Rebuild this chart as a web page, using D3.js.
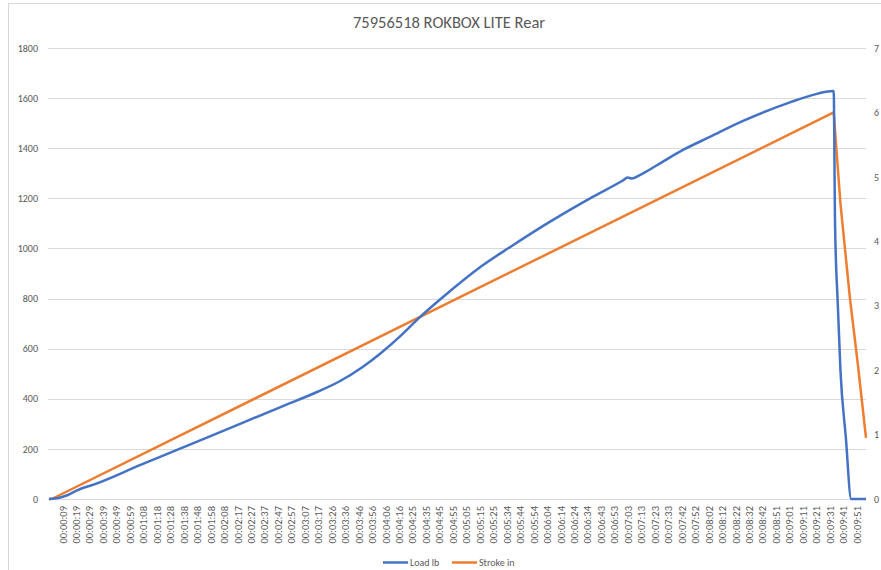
<!DOCTYPE html>
<html><head><meta charset="utf-8">
<script src="https://cdn.jsdelivr.net/npm/d3@7"></script>
<style>
body{margin:0;background:#fff;overflow:hidden;}
text{font-family:Carlito,Calibri,Lato,"Open Sans",sans-serif;}
</style>
</head><body>
<svg id="c" width="881" height="570"></svg>
<script>
const title = "75956518 ROKBOX LITE Rear";
const seriesNames = ["Load lb", "Stroke in"];
const sampleCount = 608;
// Load lb, read at sample indices
const loadIdx = [0, 7, 14, 20, 25, 30, 68, 120, 172, 200, 216, 233, 246, 263, 274, 298, 320, 343, 372, 402, 426, 430, 433, 439, 452, 471, 491, 514, 551, 567, 583, 584, 586, 588, 592, 596, 607];
const loadLb  = [0, 4, 16, 32, 44, 52, 136, 251, 367, 429, 470, 527, 580, 660, 718, 830, 924, 1007, 1106, 1200, 1270, 1283, 1279, 1293, 1333, 1393, 1445, 1505, 1584, 1612, 1628, 1100, 782, 515, 247, 0, 0];
// Stroke in, read at sample indices
const strokeIdx = [0, 2, 583, 588, 595, 601, 607];
const strokeIn  = [0, 0, 6.0, 4.59, 3.13, 2.08, 0.95];
const loadTicks = [0, 200, 400, 600, 800, 1000, 1200, 1400, 1600, 1800];
const strokeTicks = [0, 1, 2, 3, 4, 5, 6, 7];
const timeLabels = ["00:00:09","00:00:19","00:00:29","00:00:39","00:00:49","00:00:59","00:01:08","00:01:18","00:01:28","00:01:38","00:01:48","00:01:58","00:02:08","00:02:17","00:02:27","00:02:37","00:02:47","00:02:57","00:03:07","00:03:17","00:03:26","00:03:36","00:03:46","00:03:56","00:04:06","00:04:16","00:04:25","00:04:35","00:04:45","00:04:55","00:05:05","00:05:15","00:05:25","00:05:34","00:05:44","00:05:54","00:06:04","00:06:14","00:06:24","00:06:34","00:06:43","00:06:53","00:07:03","00:07:13","00:07:23","00:07:33","00:07:42","00:07:52","00:08:02","00:08:12","00:08:22","00:08:32","00:08:42","00:08:51","00:09:01","00:09:11","00:09:21","00:09:31","00:09:41","00:09:51"];
const labelEvery = 10;

const colors = ["#4472C4", "#ED7D31"];
const svg = d3.select("#c");
svg.append("rect").attr("x",0).attr("y",0).attr("width",881).attr("height",570).attr("fill","#fff");
svg.append("rect").attr("x",8.5).attr("y",3.5).attr("width",900).attr("height",600)
  .attr("fill","none").attr("stroke","#d9d9d9");

const pL = 49, pR = 866, pT = 48, pB = 499;
const x = d3.scaleLinear().domain([0, sampleCount - 1]).range([pL, pR]);
const yL = d3.scaleLinear().domain([0, 1800]).range([pB, pT]);
const yR = d3.scaleLinear().domain([0, 7]).range([pB, pT]);

// gridlines
svg.append("g").selectAll("line").data(loadTicks.filter(d => d > 0)).join("line")
  .attr("x1", pL - 1).attr("x2", pR).attr("y1", d => Math.round(yL(d)) + 0.5).attr("y2", d => Math.round(yL(d)) + 0.5)
  .attr("stroke", "#d9d9d9").attr("stroke-width", 1);

// left axis
const gl = svg.append("g").attr("transform", `translate(${pL - 11},0)`)
  .call(d3.axisLeft(yL).tickValues(loadTicks).tickFormat(d3.format("d")).tickSize(0).tickPadding(0));
gl.select(".domain").remove();
gl.selectAll("text").attr("fill", "#595959").style("font-size", "10px");

// right axis
const gr = svg.append("g").attr("transform", `translate(${pR + 8},0)`)
  .call(d3.axisRight(yR).tickValues(strokeTicks).tickFormat(d3.format("d")).tickSize(0).tickPadding(0));
gr.select(".domain").remove();
gr.selectAll("text").attr("fill", "#595959").style("font-size", "10px");

// bottom axis line
svg.append("line").attr("x1", pL - 1).attr("x2", pR).attr("y1", pB + 0.5).attr("y2", pB + 0.5)
  .attr("stroke", "#d9d9d9");

// x labels
const tickIdx = timeLabels.map((_, i) => (i + 1) * labelEvery);
const gx = svg.append("g").attr("transform", `translate(0,${pB})`)
  .call(d3.axisBottom(x).tickValues(tickIdx).tickFormat((d, i) => timeLabels[i]).tickSize(0).tickPadding(0));
gx.select(".domain").remove();
gx.selectAll("text").attr("fill", "#595959").style("font-size", "10.5px")
  .attr("text-anchor", "end").attr("dy", "0.34em")
  .attr("transform", "translate(0,7) rotate(-90)").attr("x", 0).attr("y", 0);

// lines
const loadData = loadIdx.map((d, i) => [d, loadLb[i]]);
const strokeData = strokeIdx.map((d, i) => [d, strokeIn[i]]);
svg.append("path").datum(strokeData)
  .attr("fill", "none").attr("stroke", colors[1]).attr("stroke-width", 2.5).attr("stroke-linejoin", "round")
  .attr("d", d3.line().x(d => x(d[0])).y(d => yR(d[1])));
svg.append("path").datum(loadData)
  .attr("fill", "none").attr("stroke", colors[0]).attr("stroke-width", 2.5).attr("stroke-linejoin", "round")
  .attr("d", d3.line().curve(d3.curveMonotoneX).x(d => x(d[0])).y(d => yL(d[1])));

// title
svg.append("text").attr("x", 449).attr("y", 28).attr("text-anchor", "middle")
  .attr("fill", "#595959").style("font-size", "16.5px").text(title);

// legend
const legX = [383, 452];
const lg = svg.append("g");
seriesNames.forEach((n, i) => {
  lg.append("line").attr("x1", legX[i]).attr("x2", legX[i] + 25).attr("y1", 562.5).attr("y2", 562.5)
    .attr("stroke", colors[i]).attr("stroke-width", 2.5);
  lg.append("text").attr("x", legX[i] + 27).attr("y", 562).attr("dy", "0.35em")
    .attr("fill", "#595959").style("font-size", "10px").text(n);
});
</script>
</body></html>
